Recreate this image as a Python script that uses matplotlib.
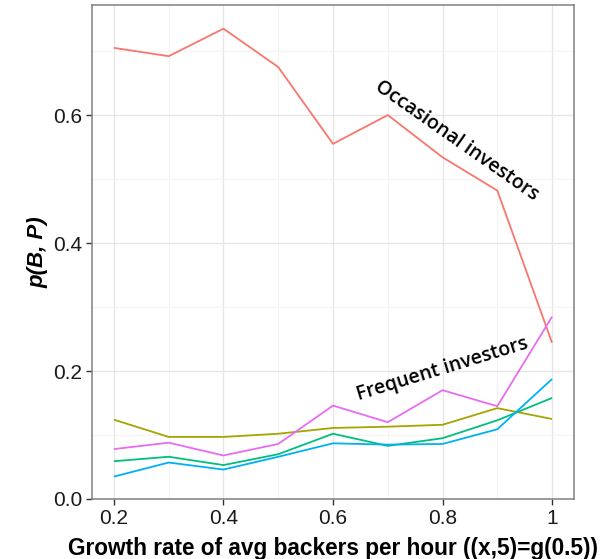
import matplotlib
matplotlib.use("Agg")
import matplotlib.pyplot as plt
from matplotlib.ticker import MultipleLocator, FuncFormatter

growth = [0.2, 0.3, 0.4, 0.5, 0.6, 0.7, 0.8, 0.9, 1.0]

occasional = [0.705, 0.692, 0.735, 0.675, 0.555, 0.600, 0.534, 0.482, 0.244]
group_olive = [0.124, 0.097, 0.097, 0.102, 0.111, 0.113, 0.116, 0.142, 0.125]
group_green = [0.059, 0.066, 0.053, 0.070, 0.102, 0.083, 0.095, 0.123, 0.158]
group_blue = [0.035, 0.057, 0.046, 0.066, 0.087, 0.085, 0.086, 0.109, 0.1875]
group_magenta = [0.078, 0.088, 0.068, 0.086, 0.146, 0.120, 0.170, 0.145, 0.285]

series = [
    (occasional, "#F8766D"),
    (group_olive, "#A3A500"),
    (group_green, "#00BF7D"),
    (group_blue, "#00B0F6"),
    (group_magenta, "#E76BF3"),
]

W, H = 607, 559
fig = plt.figure(figsize=(W / 100, H / 100), dpi=100)
ax = fig.add_axes([92 / W, (H - 499) / H, (574 - 92) / W, (499 - 5) / H])

for values, color in series:
    ax.plot(growth, values, color=color, lw=1.3, solid_capstyle="butt")

ax.set_xlim(0.16, 1.04)
ax.set_ylim(0.0, 0.772)

ax.xaxis.set_major_locator(MultipleLocator(0.2))
ax.xaxis.set_minor_locator(MultipleLocator(0.1))
ax.yaxis.set_major_locator(MultipleLocator(0.2))
ax.yaxis.set_minor_locator(MultipleLocator(0.1))

def fmt_x(v, pos):
    if abs(v - 1.0) < 1e-9:
        return "1"
    return f"{v:.1f}"

ax.xaxis.set_major_formatter(FuncFormatter(fmt_x))
ax.yaxis.set_major_formatter(FuncFormatter(lambda v, p: f"{v:.1f}"))

ax.grid(which="major", color="#E6E6E6", lw=1.0)
ax.grid(which="minor", color="#F4F4F4", lw=0.8)
ax.set_axisbelow(True)

for s in ax.spines.values():
    s.set_color("#808080")
    s.set_linewidth(1.1)

ax.tick_params(which="major", length=4, width=1, color="#333333",
               labelsize=15, labelcolor="#1a1a1a", pad=3)
ax.tick_params(which="minor", length=0)
for lab in ax.get_xticklabels() + ax.get_yticklabels():
    lab.set_family("Liberation Sans")

ax.set_xlabel("Growth rate of avg backers per hour ((x,5)=g(0.5))",
              family="Liberation Sans", weight="bold", fontsize=16.3, labelpad=7)
ax.set_ylabel("p(B, P)", family="Liberation Sans", weight="bold",
              style="italic", fontsize=16, labelpad=3)

ax.text(0.826, 0.559, "Occasional investors", rotation=-35,
        ha="center", va="center", family="Open Sans", weight="semibold",
        fontsize=14, color="black", rotation_mode="anchor")
ax.text(0.800, 0.203, "Frequent investors", rotation=17,
        ha="center", va="center", family="Open Sans", weight="semibold",
        fontsize=14, color="black", rotation_mode="anchor")

fig.savefig("out.png", dpi=100, facecolor="white")
